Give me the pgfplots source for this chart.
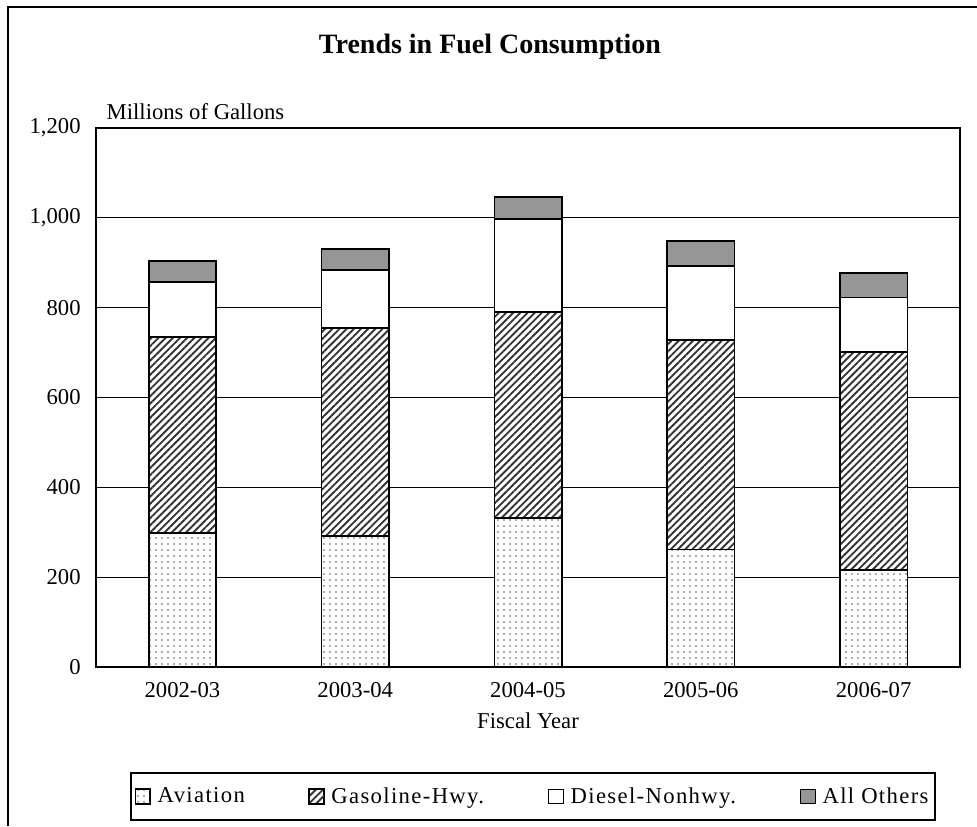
\documentclass[border=0pt]{standalone}
\usepackage{fontspec}
\setmainfont{Liberation Serif}
\usepackage{pgfplots}
\usepackage{pgfplotstable}
\pgfplotsset{compat=1.18}
\usetikzlibrary{patterns.meta}
\definecolor{othersgray}{RGB}{150,150,150}
\pgfplotstableread{
x av gas dsl oth
0 298 437 122 47
1 292 463 129 46
2 332 458 207 49
3 262 466 165 55
4 216 485 122 54
}\datatable
\newcommand{\txt}{\fontsize{17}{20}\selectfont}
\newcommand{\legtxt}{\fontsize{17}{20}\selectfont\addfontfeatures{LetterSpace=6}}
\begin{document}
\begin{tikzpicture}[font=\txt]
\useasboundingbox (0,0) rectangle (732.75pt,-619.5pt);
\draw[line width=1.5pt] (6pt,-619.5pt) -- (6pt,-5.25pt) -- (732.75pt,-5.25pt);
\begin{axis}[
  at={(72pt,-500.25pt)}, anchor=south west,
  scale only axis, width=648pt, height=404.25pt,
  ybar stacked, bar width=0.39,
  xmin=-0.5, xmax=4.5, ymin=0, ymax=1200,
  ytick={0,200,...,1200},
  xtick=data,
  xticklabels={2002-03,2003-04,2004-05,2005-06,2006-07},
  ymajorgrids, grid style={black, line width=0.6pt},
  axis line style={black, line width=1.2pt},
  major tick length=0pt, tick style={draw=none},
  /pgf/number format/assume math mode=true,
  /pgf/number format/1000 sep={,},
  tick label style={font=\txt},
  yticklabel style={xshift=-8pt},
  xticklabel style={yshift=-8pt},
  legend style={at={(0.506,-0.195)}, anchor=north, legend columns=4,
    draw=black, line width=1.2pt, font=\legtxt,
    inner xsep=3pt, inner ysep=9pt,
    /tikz/every even column/.append style={column sep=46pt}},
  legend cell align=left,
  legend image code/.code={\draw[#1, line width=0.6pt] (2pt,-5.5pt) rectangle (13pt,5.5pt); \path (16pt,0pt);},
]
\addplot[draw=black, line width=1.2pt, preaction={fill=white}, pattern={Dots[distance=4.5pt,radius=0.6pt]}, pattern color=black!65] table[x=x,y=av] {\datatable};
\addlegendentry{Aviation}
\addplot[draw=black, line width=1.2pt, preaction={fill=white}, pattern={Lines[angle=45,distance=3.8pt,line width=1.4pt]}, pattern color=black!80] table[x=x,y=gas] {\datatable};
\addlegendentry{Gasoline-Hwy.}
\addplot[draw=black, line width=1.2pt, fill=white] table[x=x,y=dsl] {\datatable};
\addlegendentry{Diesel-Nonhwy.}
\addplot[draw=black, line width=1.2pt, fill=othersgray] table[x=x,y=oth] {\datatable};
\addlegendentry{All Others}
\end{axis}
\node[anchor=base west] at (76.5pt,-89.25pt) {Millions of Gallons};
\node[anchor=base] at (396pt,-546pt) {Fiscal Year};
\node[font=\bfseries\fontsize{21}{25}\selectfont] at (367.5pt,-35.25pt) {Trends in Fuel Consumption};
\end{tikzpicture}
\end{document}
